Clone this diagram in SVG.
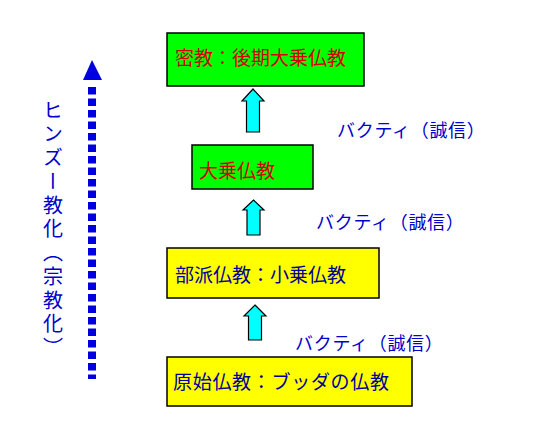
<svg xmlns="http://www.w3.org/2000/svg" width="534" height="438" viewBox="0 0 534 438">
<defs>
<style>
.box{stroke:#000;stroke-width:1.5}
.g{fill:#00ff00}
.y{fill:#ffff00}
.t{font-family:"Noto Sans CJK JP","Noto Sans CJK SC",sans-serif;font-size:19px}
.red{fill:#d40000}
.navy{fill:#000099}
.lbl{font-family:"Noto Sans CJK JP","Noto Sans CJK SC",sans-serif;font-size:18px;letter-spacing:0.7px;fill:#0000cc}
.up{fill:#00ffff;stroke:#000;stroke-width:1.2}
</style>
</defs>
<rect width="534" height="438" fill="#fff"/>
<g id="mikkyo">
<rect class="box g" x="167" y="33" width="197" height="53"/>
<text class="t red" x="175" y="65">密教：後期大乗仏教</text>
</g>
<g id="daijo">
<rect class="box g" x="192" y="145" width="121" height="44"/>
<text class="t red" x="199" y="178">大乗仏教</text>
</g>
<g id="buha">
<rect class="box y" x="167" y="248" width="212" height="50"/>
<text class="t navy" x="175" y="282">部派仏教：小乗仏教</text>
</g>
<g id="genshi">
<rect class="box y" x="167" y="357" width="245" height="49"/>
<text class="t navy" x="173" y="389" style="letter-spacing:0.7px">原始仏教：ブッダの仏教</text>
</g>
<g id="connectors">
<polygon class="up" points="253,89 264,101 259.5,101 259.5,132 246.5,132 246.5,101 242,101"/>
<polygon class="up" points="253.5,200 264,210 260,210 260,235 247,235 247,210 243,210"/>
<polygon class="up" points="255,305 266,316 261.5,316 261.5,340 248.5,340 248.5,316 244,316"/>
<line x1="92" y1="87" x2="92" y2="379" stroke="#0000e0" stroke-width="8" stroke-dasharray="7.5 4"/>
<polygon points="92,60 102,80 83,80" fill="#0000e0"/>
</g>
<g id="labels">
<text class="lbl" x="337" y="136.5">バクティ（誠信）</text>
<text class="lbl" x="316" y="228.5">バクティ（誠信）</text>
<text class="lbl" x="295" y="349.5">バクティ（誠信）</text>
</g>
<g id="side">
<text x="53" y="100" style="writing-mode:vertical-rl;letter-spacing:3.75px" font-family="Noto Sans CJK JP, Noto Sans CJK SC, sans-serif" font-size="20" fill="#0000cc">ヒンズー教化（宗教化）</text>
</g>
</svg>
